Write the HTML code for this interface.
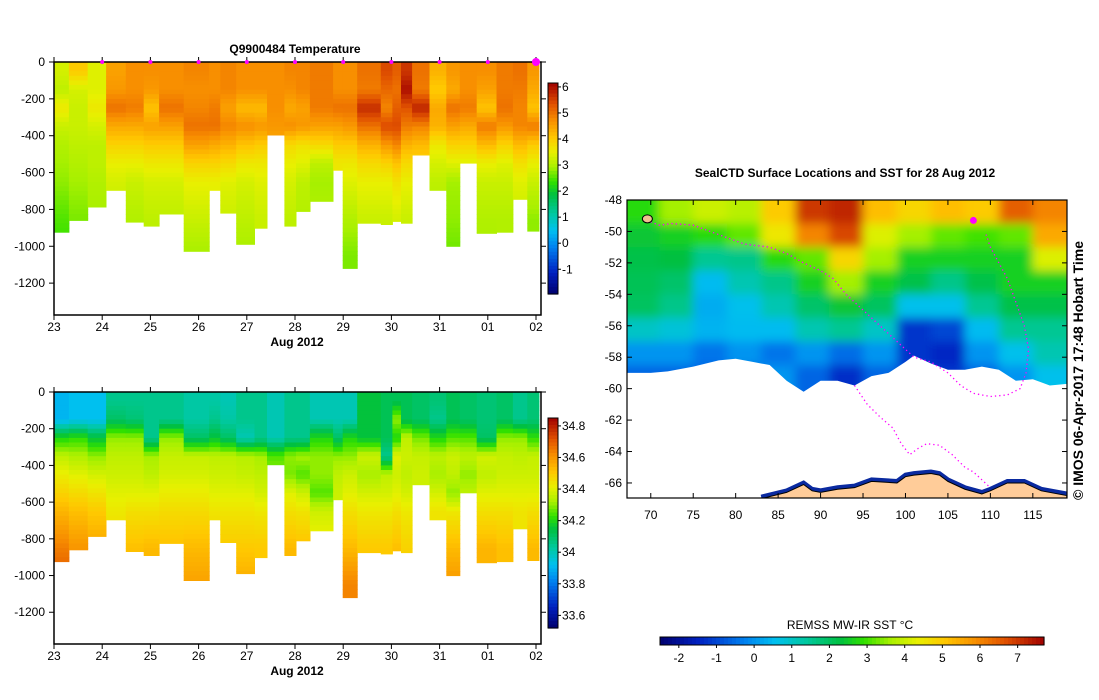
<!DOCTYPE html>
<html><head><meta charset="utf-8">
<style>
html,body{margin:0;padding:0;background:#fff;}
svg{display:block;font-family:"Liberation Sans",sans-serif;}
</style></head>
<body>
<svg id="fig" width="1099" height="700" viewBox="0 0 1099 700" xmlns="http://www.w3.org/2000/svg">
<defs>
<filter id="blur" x="0" y="0" width="1" height="1"><feGaussianBlur stdDeviation="5"/></filter>
<clipPath id="mapclip"><rect x="627" y="200" width="440" height="298"/></clipPath>
</defs>
</svg>
<script>
// ---------- DATA ----------
const colStart = [0,0.31,0.70,1.08,1.49,1.86,2.18,2.69,3.22,3.45,3.78,4.16,4.42,4.78,5.02,5.31,5.79,5.99,6.29,6.78,7.02,7.2,7.43,7.79,8.14,8.42,8.77,9.18,9.52,9.82];
const colEnd = 10.06;
const maxDepth = [924,860,787,696,869,891,825,1027,696,820,989,902,396,891,811,756,587,1120,875,882,865,875,505,696,1000,549,930,924,745,918];
const levels = [0,100,200,300,400,500,600,800,1000];
const temp = [
[3.3,3.1,3.6,3.2,3.0,2.9,2.8,2.5,2.3],
[4.0,3.3,3.2,3.2,3.1,3.0,2.9,2.7,2.7],
[3.4,3.4,3.6,3.3,3.1,3.1,3.0,2.9,2.9],
[4.5,4.6,5.0,4.4,3.9,3.5,3.3,3.1,3.1],
[4.7,4.7,4.9,4.4,3.9,3.5,3.2,3.0,3.0],
[4.7,4.6,4.1,4.5,4.0,3.6,3.3,3.1,3.1],
[4.7,4.7,5.0,4.5,4.0,3.6,3.3,3.1,3.1],
[4.8,4.7,4.8,5.0,4.5,3.9,3.5,3.2,2.9],
[4.7,4.7,4.9,5.0,4.4,3.9,3.5,3.3,3.3],
[4.8,4.8,4.5,4.8,4.3,3.8,3.4,3.2,3.2],
[4.7,4.7,4.2,4.7,4.1,3.6,3.3,3.1,2.9],
[4.7,4.7,4.2,4.6,4.0,3.6,3.4,3.2,3.2],
[4.7,4.7,4.7,4.6,4.4,4.4,4.4,4.4,4.4],
[4.8,4.7,4.4,4.7,3.8,3.5,3.3,3.1,3.1],
[4.8,4.8,4.5,4.6,3.7,3.4,3.1,3.0,3.0],
[4.9,4.9,4.9,4.5,3.8,3.1,2.9,3.0,3.0],
[4.7,4.7,5.0,4.5,4.0,3.6,3.6,3.6,3.6],
[4.7,4.7,5.0,4.6,4.0,3.6,3.4,3.0,2.7],
[5.0,4.9,5.7,5.0,4.3,3.8,3.5,3.2,3.2],
[5.4,5.1,4.8,5.4,4.6,3.9,3.5,3.2,3.2],
[5.2,5.0,5.2,5.4,4.8,4.1,3.7,3.3,3.3],
[5.6,6.0,5.3,4.9,4.3,3.8,3.5,3.2,3.2],
[5.0,4.9,5.8,4.8,4.2,3.9,3.9,3.9,3.9],
[4.3,4.0,4.4,4.3,3.6,3.3,3.1,3.0,3.0],
[4.6,4.4,5.0,4.5,3.9,3.4,2.9,2.8,2.6],
[4.7,4.7,4.9,4.4,3.9,3.4,3.4,3.4,3.4],
[4.7,4.5,4.1,4.9,4.2,3.5,3.2,3.0,2.9],
[4.9,4.9,5.0,4.6,3.9,3.4,3.2,3.0,3.0],
[5.0,4.9,4.8,4.8,4.2,3.7,3.4,3.2,3.2],
[4.6,4.4,4.1,4.9,4.0,3.5,3.2,2.8,2.8]];
const salt = [
[33.9,33.9,34.2,34.35,34.42,34.48,34.54,34.64,34.72],
[33.92,33.92,34.22,34.33,34.4,34.46,34.52,34.6,34.6],
[33.92,33.92,34.15,34.3,34.38,34.44,34.5,34.57,34.57],
[34.05,34.1,34.3,34.35,34.37,34.4,34.43,34.48,34.48],
[34.05,34.08,34.3,34.35,34.37,34.4,34.45,34.52,34.52],
[34.05,34.05,34.05,34.32,34.35,34.4,34.45,34.53,34.53],
[34.05,34.05,34.3,34.36,34.38,34.42,34.46,34.52,34.52],
[34.02,34.02,34.1,34.36,34.38,34.42,34.46,34.53,34.58],
[34.02,34.05,34.15,34.35,34.37,34.4,34.44,34.48,34.48],
[34.0,34.02,34.1,34.35,34.37,34.4,34.44,34.5,34.5],
[34.05,34.05,34.0,34.34,34.36,34.4,34.44,34.5,34.56],
[34.05,34.05,34.05,34.32,34.35,34.38,34.43,34.5,34.5],
[34.0,34.0,34.0,34.25,34.3,34.3,34.3,34.3,34.3],
[34.05,34.05,34.05,34.3,34.28,34.4,34.45,34.53,34.53],
[34.05,34.05,34.05,34.32,34.25,34.37,34.44,34.52,34.52],
[34.0,34.0,34.2,34.3,34.3,34.25,34.37,34.44,34.44],
[34.0,34.0,34.1,34.3,34.35,34.37,34.37,34.37,34.37],
[34.0,34.0,34.2,34.3,34.37,34.4,34.45,34.53,34.63],
[34.15,34.15,34.15,34.37,34.32,34.38,34.43,34.5,34.5],
[34.12,34.12,34.12,34.05,34.35,34.38,34.43,34.5,34.5],
[34.12,34.3,34.2,34.4,34.37,34.4,34.45,34.52,34.52],
[34.12,34.12,34.35,34.37,34.35,34.38,34.43,34.48,34.48],
[34.1,34.1,34.28,34.36,34.37,34.37,34.37,34.37,34.37],
[34.08,34.05,34.2,34.35,34.32,34.38,34.44,34.44,34.44],
[34.12,34.12,34.25,34.37,34.35,34.3,34.43,34.53,34.6],
[34.1,34.1,34.25,34.35,34.3,34.35,34.35,34.35,34.35],
[34.08,34.08,34.1,34.38,34.35,34.4,34.45,34.54,34.54],
[34.1,34.1,34.3,34.36,34.37,34.4,34.45,34.52,34.52],
[34.05,34.05,34.3,34.35,34.37,34.4,34.44,34.44,34.44],
[34.08,34.08,34.22,34.36,34.37,34.4,34.45,34.53,34.53]];
const dayLabels = ["23","24","25","26","27","28","29","30","31","01","02"];
const depthTicks = [0,-200,-400,-600,-800,-1000,-1200];
const tempTicks = [6,5,4,3,2,1,0,-1];
const saltTicks = [34.8,34.6,34.4,34.2,34,33.8,33.6];
// SST map grid
const sstLats = [-48.75,-50.25,-51.75,-53.25,-54.75,-56.25,-57.75,-59.25,-60.75];
const sstLons = [69,73,77,81,85,89,93,97,101,105,109,113,117];
const sst = [
[2.8,3.6,4.0,3.8,5.0,7.0,7.2,5.2,4.8,5.2,5.0,6.5,6.0],
[2.4,2.6,2.8,3.2,4.5,6.0,6.8,4.2,3.6,3.2,3.0,3.2,5.5],
[2.2,2.3,1.5,1.6,2.8,3.2,4.8,3.6,2.6,2.6,2.6,2.6,4.2],
[2.1,1.9,0.5,1.2,1.6,2.6,3.6,2.6,2.2,1.6,2.2,2.6,2.6],
[2.0,1.6,0.3,0.6,1.2,1.9,2.4,2.0,0.6,0.6,1.5,2.2,2.2],
[1.0,0.8,0.4,0.5,0.5,1.2,1.5,1.0,-1.2,-1.0,0.5,1.5,1.5],
[0.0,0.0,-0.4,0.0,-0.4,0.0,-0.5,0.0,-1.2,-1.4,0.0,0.6,1.2],
[-0.6,-0.6,-0.6,-0.6,0.0,-0.6,-1.3,-0.6,-1.0,-1.2,-0.6,0.0,0.6],
[-0.6,-0.6,-0.6,-0.6,0.0,-0.6,-1.3,-0.6,-1.0,-1.2,-0.6,0.0,0.6]];
const iceLon = [67,70,72,75,78,80,82,84,86,88,90,92,94,96,98,100,101,103,105,107,109,111,113,115,117,119];
const iceLat = [-59,-59,-58.9,-58.6,-58.2,-58.1,-58.3,-58.5,-59.5,-60.2,-59.5,-59.5,-59.8,-59.2,-59,-58.3,-57.9,-58.4,-58.8,-58.8,-58.6,-58.8,-59.5,-59.4,-59.8,-59.7];
const landLon = [83,86,88,89,90,92,94,96,99,100,101,103,104,105,107,109,110,112,114,116,119];
const landLat = [-67,-66.6,-66.1,-66.5,-66.6,-66.4,-66.3,-65.9,-66,-65.6,-65.5,-65.4,-65.5,-65.9,-66.4,-66.7,-66.5,-66.0,-66.0,-66.5,-66.8];
const track1Lon = [69.5,71,72.5,75,78,81,84,86,88,90,91.5,93,95,97,99,101,103,105,106.5,108,110,112,113.5,114.2,114.5,114,113,112,111,110,109.5];
const track1Lat = [-49.3,-49.6,-49.5,-49.6,-50.2,-50.8,-51,-51.4,-52,-52.5,-53,-54,-55,-56,-57,-58,-58.3,-59,-59.8,-60.3,-60.5,-60.4,-60,-59,-57.5,-56,-54.5,-53,-52,-51,-50.2];
const track2Lon = [94,95.5,97,98.5,99.5,100.5,101.5,102.5,104,105.5,107,108,109,110];
const track2Lat = [-59.8,-61,-61.8,-62.5,-63.5,-64.2,-63.8,-63.5,-63.6,-64.2,-65,-65.3,-65.8,-66.3];
const mapLonTicks = [70,75,80,85,90,95,100,105,110,115];
const mapLatTicks = [-48,-50,-52,-54,-56,-58,-60,-62,-64,-66];
const sstTicks = [-2,-1,0,1,2,3,4,5,6,7];

// ---------- HELPERS ----------
const svg = document.getElementById('fig');
const NS = 'http://www.w3.org/2000/svg';
function mk(tag, attrs, parent){ const e=document.createElementNS(NS,tag); for(const k in attrs) e.setAttribute(k,attrs[k]); (parent||svg).appendChild(e); return e; }
function hex(c){return [parseInt(c.slice(1,3),16),parseInt(c.slice(3,5),16),parseInt(c.slice(5,7),16)];}
function cmap(stops){ return function(t){ t=Math.max(0,Math.min(1,t)); for(let i=1;i<stops.length;i++){ if(t<=stops[i][0]){ const a=stops[i-1],b=stops[i]; const f=(t-a[0])/(b[0]-a[0]||1); const ca=hex(a[1]),cb=hex(b[1]); return 'rgb('+ca.map((v,j)=>Math.round(v+(cb[j]-v)*f)).join(',')+')'; } } return stops[stops.length-1][1]; }; }
const jet = cmap([[0,'#00006e'],[0.1,'#0020c0'],[0.22,'#0080f0'],[0.3,'#00c0f0'],[0.38,'#00c8a0'],[0.47,'#00c040'],[0.53,'#30e000'],[0.6,'#a8f000'],[0.67,'#e8f000'],[0.74,'#ffc800'],[0.82,'#f89000'],[0.9,'#e05000'],[1,'#a00000']]);
function valAt(arr, z){ // linear between level centers (level+50)
  const c = levels.map(l=>l+50);
  if(z<=c[0]) return arr[0];
  for(let k=1;k<c.length;k++){ if(z<=c[k]){ const f=(z-c[k-1])/(c[k]-c[k-1]); return arr[k-1]+(arr[k]-arr[k-1])*f; } }
  return arr[arr.length-1];
}

// ---------- SECTION PLOTS ----------
function section(opt){
  const {top, bot, name, data, vmin, vmax, ticks, cbTop, cbBot, title} = opt;
  const L=54, R=541;
  const x = d => L + d*48.2;
  const y = z => top + z*(bot-top)/1373;
  const g = mk('g',{});  
  const cells = mk('g',{},g);  
  const step=25;
  for(let c=0;c<colStart.length;c++){
    const x0=x(colStart[c]), x1=x(c+1<colStart.length?colStart[c+1]:colEnd);
    for(let z0=0; z0<maxDepth[c]; z0+=step){
      const z1=Math.min(z0+step, maxDepth[c]);
      const v=valAt(data[c], z0+step/2);
      const r=mk('rect',{x:x0.toFixed(1),y:y(z0).toFixed(1),width:(x1-x0+0.5).toFixed(1),height:(y(z1)-y(z0)+0.5).toFixed(1),fill:jet((v-vmin)/(vmax-vmin))},cells);
      
      
    }
  }
  mk('rect',{x:L,y:top,width:R-L,height:bot-top,fill:'none',stroke:'#000','stroke-width':1.5},g);
  depthTicks.forEach(t=>{ const yy=y(-t);
    mk('line',{x1:L-5,x2:L,y1:yy,y2:yy,stroke:'#000'},g);
    mk('line',{x1:R,x2:R+5,y1:yy,y2:yy,stroke:'#000'},g);
    const tx=mk('text',{x:L-9,y:yy+4,'font-size':12,'text-anchor':'end'},g); tx.textContent=t;
      });
  dayLabels.forEach((lab,i)=>{ const xx=x(i);
    mk('line',{x1:xx,x2:xx,y1:bot,y2:bot+5,stroke:'#000'},g);
    mk('line',{x1:xx,x2:xx,y1:top-5,y2:top,stroke:'#000'},g);
    const tx=mk('text',{x:xx,y:bot+16,'font-size':12,'text-anchor':'middle'},g); tx.textContent=lab;
      });
  const xl=mk('text',{x:297,y:bot+31,'font-size':12,'font-weight':'bold','text-anchor':'middle'},g); xl.textContent='Aug 2012';
   
  if(title){ const t=mk('text',{x:295,y:53,'font-size':12,'font-weight':'bold','text-anchor':'middle'},g); t.textContent=title;
     
    for(let i=1;i<=10;i++){ const m=mk('circle',{cx:x(i),cy:top,r:i===10?4:2,fill:'#ff00ff'},g);   } }
  const cb=mk('g',{},g);  
  const n=60, h=(cbBot-cbTop)/n;
  for(let i=0;i<n;i++){ mk('rect',{x:548,y:cbTop+i*h,width:10,height:h+0.6,fill:jet(1-(i+0.5)/n)},cb); }
  mk('rect',{x:548,y:cbTop,width:10,height:cbBot-cbTop,fill:'none',stroke:'#000'},cb);
  const cy=v=>cbBot-(v-vmin)/(vmax-vmin)*(cbBot-cbTop);
  ticks.forEach(v=>{ mk('line',{x1:558,x2:561,y1:cy(v),y2:cy(v),stroke:'#000'},cb);
    const t=mk('text',{x:562,y:cy(v)+4,'font-size':12},cb); t.textContent=v;   });
}
section({top:62,bot:315,name:'temperature-section',data:temp,vmin:-1.95,vmax:6.15,ticks:tempTicks,cbTop:83,cbBot:294,title:'Q9900484  Temperature'});
section({top:392,bot:644,name:'salinity-section',data:salt,vmin:33.52,vmax:34.85,ticks:saltTicks,cbTop:418,cbBot:628});

// ---------- MAP ----------
const mx = lon => 627 + (lon-67.2)*8.49;
const my = lat => 200 + (-48-lat)*15.72;
const sstMin=-2.5, sstMax=7.7;
const map=mk('g',{});  
const mt=mk('text',{x:845,y:177,'font-size':12,'font-weight':'bold','text-anchor':'middle'},map); mt.textContent='SealCTD Surface Locations and SST for 28 Aug 2012';
 
const clipG=mk('g',{'clip-path':'url(#mapclip)'},map);
const field=mk('g',{filter:'url(#blur)'},clipG);
 
for(let r=0;r<sstLats.length;r++) for(let c=0;c<sstLons.length;c++){
  const x0=mx(sstLons[c]-2-(c===0?3:0)), x1=mx(sstLons[c]+2+(c===sstLons.length-1?3:0));
  const y0=my(sstLats[r]+0.75+(r===0?2:0)), y1=my(sstLats[r]-0.75);
  const cell=mk('rect',{x:x0,y:y0,width:x1-x0+0.5,height:y1-y0+0.5,fill:jet((sst[r][c]-sstMin)/(sstMax-sstMin))},field);
  
  
}
let icePts=iceLon.map((lo,i)=>mx(lo)+','+my(iceLat[i])).join(' ');
icePts += ' '+mx(119)+','+my(-68)+' '+mx(67)+','+my(-68);
const ice=mk('polygon',{points:icePts,fill:'#fff'},clipG);  
let landPts=landLon.map((lo,i)=>mx(lo)+','+my(landLat[i])).join(' ')+' '+mx(119)+','+my(-68)+' '+mx(83)+','+my(-68);
const coast=mk('polyline',{points:landLon.map((lo,i)=>mx(lo)+','+(my(landLat[i])-2)).join(' '),fill:'none',stroke:'#0a2aa0','stroke-width':4},clipG);
 
const land=mk('polygon',{points:landPts,fill:'#ffcc99',stroke:'#000','stroke-width':1},clipG);  
function track(lons,lats,nm){ const tg=mk('g',{},clipG);  
  mk('polyline',{points:lons.map((lo,i)=>mx(lo)+','+my(lats[i])).join(' '),fill:'none',stroke:'#ff00ff','stroke-width':1.3,'stroke-dasharray':'1.3 3'},tg); }
track(track1Lon,track1Lat,'seal-track-1'); track(track2Lon,track2Lat,'seal-track-2');
const blob=mk('circle',{cx:mx(108),cy:my(-49.3),r:3.5,fill:'#ff00ff'},clipG);  
const kg=mk('ellipse',{cx:mx(69.6),cy:my(-49.2),rx:5,ry:4,fill:'#f0c090',stroke:'#000'},clipG);  
mk('rect',{x:627,y:200,width:440,height:298,fill:'none',stroke:'#000','stroke-width':1.2},map);
mapLonTicks.forEach(lo=>{ const xx=mx(lo); mk('line',{x1:xx,x2:xx,y1:498,y2:493,stroke:'#000'},map); mk('line',{x1:xx,x2:xx,y1:200,y2:205,stroke:'#000'},map);
  const t=mk('text',{x:xx,y:519,'font-size':12,'text-anchor':'middle'},map); t.textContent=lo;   });
mapLatTicks.forEach(la=>{ const yy=my(la); mk('line',{x1:627,x2:632,y1:yy,y2:yy,stroke:'#000'},map); mk('line',{x1:1062,x2:1067,y1:yy,y2:yy,stroke:'#000'},map);
  const t=mk('text',{x:622,y:yy+4,'font-size':12,'text-anchor':'end'},map); t.textContent=la;   });
const stamp=mk('text',{x:0,y:0,'font-size':14,'font-weight':'bold','transform':'translate(1083,500) rotate(-90)'},map);
stamp.textContent='\u00A9 IMOS 06-Apr-2017 17:48 Hobart Time';  
const mcb=mk('g',{});  
const cbx=v=>660+(v-sstMin)/(sstMax-sstMin)*384;
for(let i=0;i<96;i++){ mk('rect',{x:660+i*4,y:637,width:4.6,height:8,fill:jet((i+0.5)/96)},mcb); }
mk('rect',{x:660,y:637,width:384,height:8,fill:'none',stroke:'#000'},mcb);
sstTicks.forEach(v=>{ mk('line',{x1:cbx(v),x2:cbx(v),y1:645,y2:648,stroke:'#000'},mcb);
  const t=mk('text',{x:cbx(v),y:662,'font-size':12,'text-anchor':'middle'},mcb); t.textContent=v;   });
const ct=mk('text',{x:850,y:629,'font-size':12,'text-anchor':'middle'},mcb); ct.textContent='REMSS MW-IR SST \u00B0C';
 
</script>
</body></html>
